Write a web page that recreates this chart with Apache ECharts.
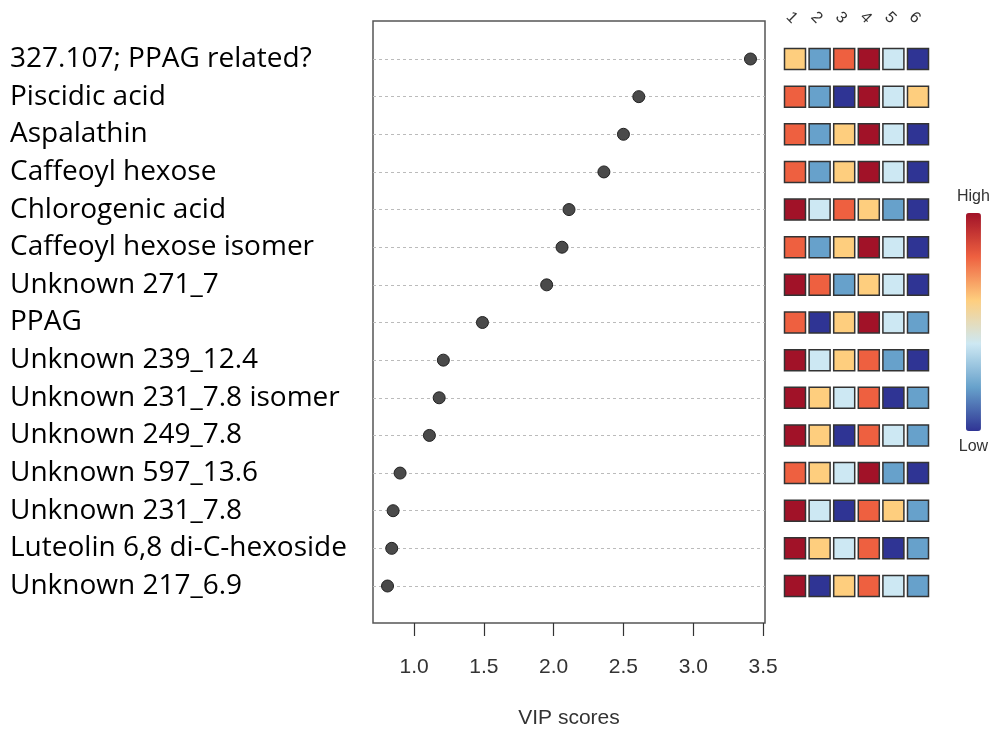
<!DOCTYPE html>
<html>
<head>
<meta charset="utf-8">
<script src="https://cdn.jsdelivr.net/npm/echarts@6/dist/echarts.min.js"></script>
<style>
html,body{margin:0;padding:0;background:#fff;}
#chart{width:993px;height:729px;}
</style>
</head>
<body>
<div id="chart"></div>
<script>
// ---- data ----
const compounds = [
  "327.107; PPAG related?",
  "Piscidic acid",
  "Aspalathin",
  "Caffeoyl hexose",
  "Chlorogenic acid",
  "Caffeoyl hexose isomer",
  "Unknown 271_7",
  "PPAG",
  "Unknown 239_12.4",
  "Unknown 231_7.8 isomer",
  "Unknown 249_7.8",
  "Unknown 597_13.6",
  "Unknown 231_7.8",
  "Luteolin 6,8 di-C-hexoside",
  "Unknown 217_6.9"
];
const vipScores = [3.41, 2.61, 2.50, 2.36, 2.11, 2.06, 1.95, 1.49, 1.21, 1.18, 1.11, 0.90, 0.85, 0.84, 0.81];
const groups = ["1", "2", "3", "4", "5", "6"];
// relative level per group (1 = low ... 6 = high)
const levels = [
  [4,2,5,6,3,1],
  [5,2,1,6,3,4],
  [5,2,4,6,3,1],
  [5,2,4,6,3,1],
  [6,3,5,4,2,1],
  [5,2,4,6,3,1],
  [6,5,2,4,3,1],
  [5,1,4,6,3,2],
  [6,3,4,5,2,1],
  [6,4,3,5,1,2],
  [6,4,1,5,3,2],
  [5,4,3,6,2,1],
  [6,3,1,5,4,2],
  [6,4,3,5,1,2],
  [6,1,4,5,3,2]
];
const xTicks = [1.0, 1.5, 2.0, 2.5, 3.0, 3.5];
const palette = ['#2F3494', '#67A1CB', '#CDE8F3', '#FECE7E', '#EE6040', '#A11228'];

// ---- build ----
const vMin = Math.min(...vipScores), vMax = Math.max(...vipScores);
const pad = (vMax - vMin) * 0.04;
const scatterData = compounds.map((c, i) => [vipScores[i], c]);
const heatData = [];
levels.forEach((row, i) => row.forEach((v, j) => heatData.push([groups[j], compounds[i], v])));

const chart = echarts.init(document.getElementById('chart'));
chart.setOption({
  animation: false,
  backgroundColor: '#fff',
  grid: [
    { left: 373, top: 21, width: 392, height: 602, show: true, borderColor: '#555', borderWidth: 1.5, backgroundColor: 'transparent', outerBoundsMode: 'none' },
    { left: 373, top: 59, width: 392, height: 527, outerBoundsMode: 'none' },
    { left: 795, top: 59, width: 123, height: 527, outerBoundsMode: 'none' }
  ],
  xAxis: [
    { gridIndex: 0, type: 'value', show: false, min: 0, max: 1 },
    {
      gridIndex: 1, type: 'value', position: 'bottom', offset: 37,
      min: vMin - pad, max: vMax + pad,
      axisLine: { show: false },
      axisTick: { show: true, length: 13, customValues: xTicks, lineStyle: { color: '#333', width: 1.2 } },
      axisLabel: { customValues: xTicks, formatter: v => v.toFixed(1), fontSize: 21, fontFamily: 'Liberation Sans', color: '#333', margin: 34 },
      splitLine: { show: false },
      name: 'VIP scores', nameLocation: 'middle', nameGap: 85,
      nameTextStyle: { fontSize: 21, fontFamily: 'Liberation Sans', color: '#333' }
    },
    {
      gridIndex: 2, type: 'category', data: groups, boundaryGap: false, position: 'top',
      axisLine: { show: false }, axisTick: { show: false },
      axisLabel: { rotate: 45, fontSize: 16, color: '#333', margin: 38, fontFamily: 'Liberation Sans' }
    }
  ],
  yAxis: [
    { gridIndex: 0, type: 'value', show: false, min: 0, max: 1 },
    {
      gridIndex: 1, type: 'category', data: compounds, inverse: true, boundaryGap: false,
      axisLine: { show: false }, axisTick: { show: false },
      axisLabel: { interval: 0, align: 'left', margin: 363, fontSize: 28, fontFamily: 'Open Sans', color: '#000', padding: [5, 0, 0, 0] },
      splitLine: { show: true, interval: 0, lineStyle: { type: [3, 3], color: '#bbb', width: 1 } }
    },
    {
      gridIndex: 2, type: 'category', data: compounds, inverse: true, boundaryGap: false,
      show: false
    }
  ],
  visualMap: {
    type: 'continuous', seriesIndex: 1, dimension: 2, min: 1, max: 6,
    inRange: { color: palette },
    calculable: false, orient: 'vertical',
    left: 942, top: 174, itemWidth: 15, itemHeight: 218,
    text: ['High', 'Low'], textGap: 8,
    textStyle: { fontSize: 16, color: '#333', fontFamily: 'Liberation Sans' }
  },
  series: [
    {
      type: 'scatter', xAxisIndex: 1, yAxisIndex: 1, data: scatterData,
      symbolSize: 12,
      itemStyle: { color: '#4a4a4a', borderColor: '#222', borderWidth: 1, opacity: 1 }
    },
    {
      type: 'scatter', xAxisIndex: 2, yAxisIndex: 2, data: heatData,
      symbol: 'rect', symbolSize: 21,
      itemStyle: { borderColor: '#333', borderWidth: 1.5, opacity: 1 }
    }
  ]
});
</script>
</body>
</html>
